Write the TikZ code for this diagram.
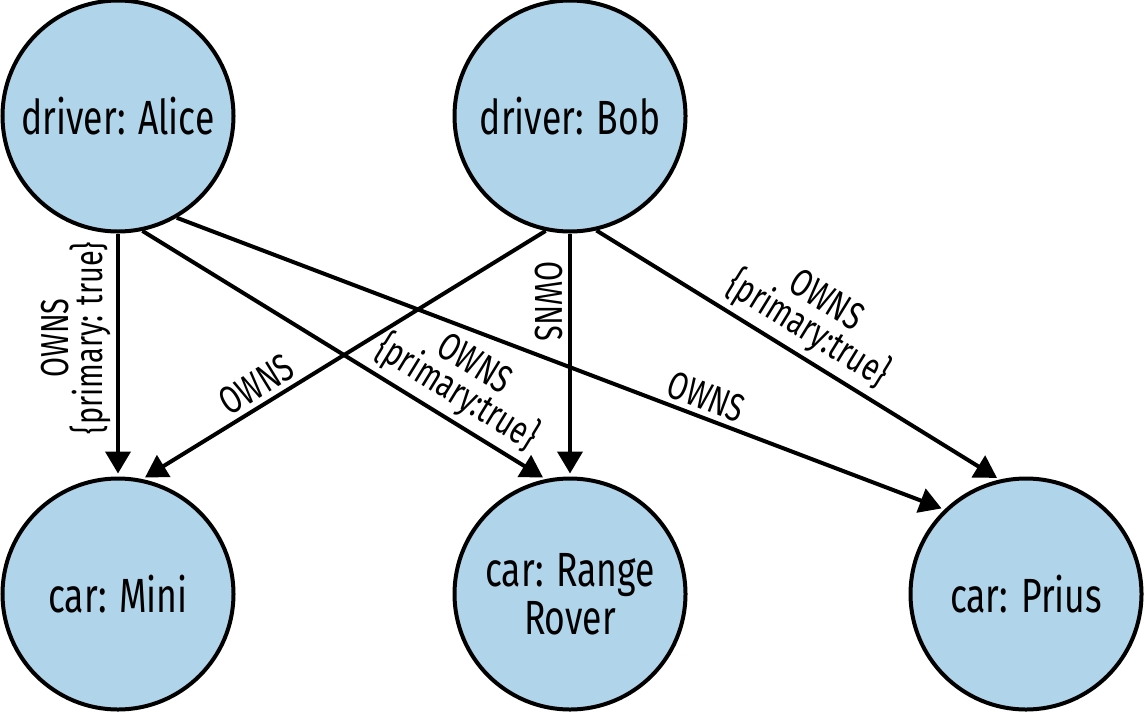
\documentclass[tikz,border=0pt]{standalone}
\usepackage{fontspec}
\setmainfont{Fira Sans}[FakeStretch=0.74]
\usetikzlibrary{arrows.meta}
\definecolor{azulclaro}{RGB}{176, 212, 233}

\begin{document}
\begin{tikzpicture}[
    x=1pt, y=-1pt,
    no/.style={
        circle,
        draw=black,
        line width=4pt,
        fill=azulclaro,
        minimum size=231pt,
        inner sep=0pt,
        align=center,
        font=\fontsize{48}{48}\selectfont
    },
    seta/.style={
        -{Triangle[length=22pt, width=25pt]},
        line width=4pt,
        shorten >=3pt
    },
    rotulo/.style={
        font=\fontsize{39}{34}\selectfont,
        align=center,
        inner sep=5pt
    }
]

\useasboundingbox (0,0) rectangle (1145,712);

% =================================================
% MOTORISTAS
% =================================================

\node[no] (alice) at (118,116)
{driver: Alice};

\node[no] (bob) at (570,116)
{driver: Bob};

% =================================================
% CARROS
% =================================================

\node[no] (mini) at (118,594)
{car: Mini};

\node[no] (rover) at (570,594)
{car: Range\\Rover};

\node[no] (prius) at (1026,594)
{car: Prius};

% =================================================
% RELACOES OWNS
% =================================================

\draw[seta] (alice.270) --
    node[rotulo, rotate=90, anchor=south, pos=0.43] {OWNS\\\{primary: true\}}
    (mini.90);

\draw[seta] (bob.258) --
    node[rotulo, sloped, above, pos=0.69] {OWNS}
    (mini.78);

\draw[seta] (alice.282) --
    node[rotulo, sloped, above, pos=0.745] {OWNS\\\{primary:true\}}
    (rover.102);

\draw[seta] (bob.270) --
    node[rotulo, rotate=-90, anchor=north, pos=0.28] {OWNS}
    (rover.90);

\draw[seta] (alice.300) --
    node[rotulo, sloped, above, pos=0.68] {OWNS}
    (prius.134);

\draw[seta] (bob.283) --
    node[rotulo, sloped, above, pos=0.49] {OWNS\\\{primary:true\}}
    (prius.103);

\end{tikzpicture}
\end{document}
